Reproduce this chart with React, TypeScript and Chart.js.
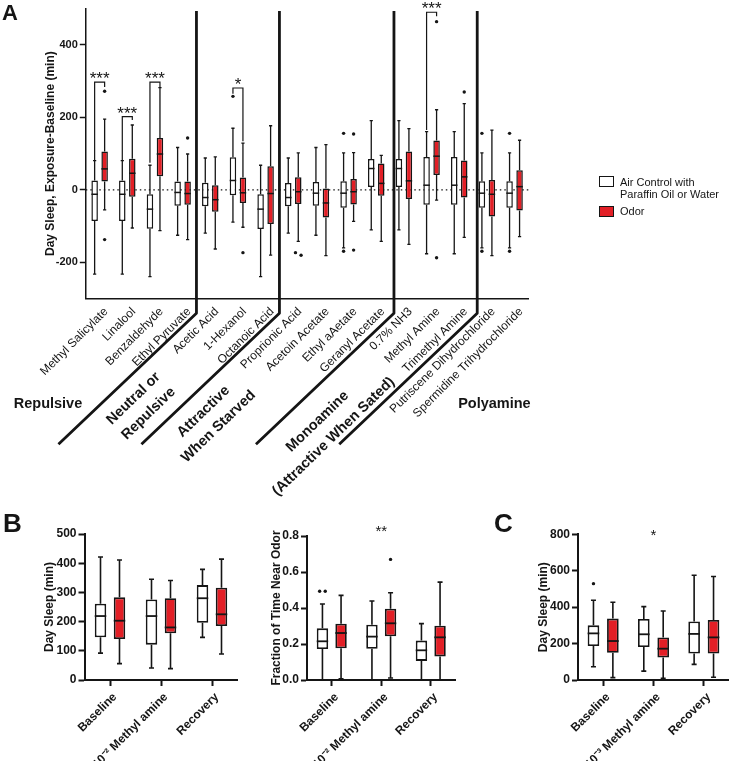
import React, { useEffect, useRef } from 'react';
import { Chart, registerables } from 'chart.js';

Chart.register(...registerables);

const FONT = "'Liberation Sans', Arial, Helvetica, sans-serif";
const INK = '#151515';
const RED = '#E21F26';
const WHITE = '#FFFFFF';

// ---------------- Panel A data ----------------
const A_CATEGORIES = [
  'Methyl Salicylate', 'Linalool', 'Benzaldehyde', 'Ethyl Pyruvate', 'Acetic Acid', '1-Hexanol',
  'Octanoic Acid', 'Proprionic Acid', 'Acetoin Acetate', 'Ethyl aAetate', 'Geranyl Acetate',
  '0.7% NH3', 'Methyl Amine', 'Trimethyl Amine', 'Putriscene Dihydrochloride', 'Spermidine Trihydrochloride',
];
// [min, q1, median, q3, max]
const A_CONTROL = [
  [-232, -86, -12, 26, 81],
  [-232, -86, -12, 26, 81],
  [-239, -107, -53, -12, 68],
  [-125, -44, -7, 23, 117],
  [-119, -45, -21, 20, 88],
  [-89, -15, 26, 90, 170],
  [-239, -108, -53, -12, 68],
  [-119, -45, -21, 19, 88],
  [-125, -44, -9, 22, 117],
  [-160, -49, -9, 24, 102],
  [-110, 8, 59, 85, 191],
  [-110, 8, 59, 85, 191],
  [-176, -41, 13, 91, 161],
  [-176, -41, 13, 91, 161],
  [-160, -49, -9, 24, 102],
  [-160, -49, -9, 24, 102],
];
const A_ODOR = [
  [-55, 23, 58, 106, 195],
  [-105, -19, 46, 86, 179],
  [-112, 38, 99, 143, 282],
  [-137, -41, -10, 23, 99],
  [-163, -60, -27, 13, 91],
  [-103, -36, -8, 34, 129],
  [-180, -94, -10, 65, 177],
  [-142, -39, -5, 35, 102],
  [-181, -76, -36, 4, 125],
  [-87, -40, -5, 30, 103],
  [-142, -16, 18, 73, 95],
  [-150, -25, 25, 106, 169],
  [-28, 41, 93, 136, 221],
  [-131, -21, 36, 81, 238],
  [-181, -73, -12, 27, 165],
  [-129, -57, 9, 54, 137],
];
const A_CONTROL_OUTLIERS = [[], [], [], [], [], [258], [], [], [], [156, -169], [], [], [], [], [156, -169], [156, -169]];
const A_ODOR_OUTLIERS = [[272, -137], [], [], [143], [], [-173], [], [-173, -180], [], [154, -166], [], [], [464, -187], [270], [], []];
const A_Y_TICKS = [-200, 0, 200, 400];
// significance brackets: category, text, bracket level, left leg end, right leg end
const A_SIGNIFICANCE = [
  { cat: 0, text: '***', y: 297, left: 81, right: 284 },
  { cat: 1, text: '***', y: 202, left: 81, right: 193 },
  { cat: 2, text: '***', y: 297, left: 75, right: 284 },
  { cat: 5, text: '*', y: 281, left: 265, right: 134 },
  { cat: 12, text: '***', y: 490, left: 165, right: 479 },
];
const A_GROUP_BOUNDARIES = [3.5, 6.5, 10.64, 13.65];

// ---------------- Panel B data ----------------
const B_CATEGORIES = ['Baseline', '10\u207B\u00B2 Methyl amine', 'Recovery'];
const B_SLEEP_CONTROL = [[92, 146, 219, 261, 421], [41, 121, 219, 276, 345], [146, 196, 280, 325, 379]];
const B_SLEEP_ODOR = [[56, 140, 203, 283, 411], [39, 160, 180, 280, 341], [89, 185, 225, 316, 414]];
const B_SLEEP_Y_TICKS = [0, 100, 200, 300, 400, 500];
const B_FRAC_CONTROL = [[0, 0.172, 0.215, 0.287, 0.422], [0, 0.174, 0.241, 0.307, 0.439], [0, 0.106, 0.165, 0.219, 0.313]];
const B_FRAC_ODOR = [[0.006, 0.176, 0.261, 0.313, 0.47], [0.011, 0.243, 0.315, 0.396, 0.485], [0, 0.131, 0.237, 0.302, 0.544]];
const B_FRAC_CONTROL_OUTLIERS = [[0.493, 0.493], [], []];
const B_FRAC_ODOR_OUTLIERS = [[], [0.67], []];
const B_FRAC_Y_TICKS = [0, 0.2, 0.4, 0.6, 0.8];
const B_FRAC_STARS = [{ cat: 1, text: '**', y: 0.85 }];

// ---------------- Panel C data ----------------
const C_CATEGORIES = ['Baseline', '10\u207B\u00B3 Methyl amine', 'Recovery'];
const C_CONTROL = [[73, 187, 256, 300, 438], [49, 181, 251, 335, 403], [86, 145, 253, 321, 575]];
const C_ODOR = [[13, 150, 214, 337, 427], [9, 123, 172, 233, 379], [15, 145, 234, 330, 568]];
const C_CONTROL_OUTLIERS = [[529], [], []];
const C_ODOR_OUTLIERS = [[], [], []];
const C_Y_TICKS = [0, 200, 400, 600, 800];
const C_STARS = [{ cat: 1, text: '*', y: 815 }];

type Spec = {
  labels: string[];
  control: number[][];
  odor: number[][];
  controlOut: number[][];
  odorOut: number[][];
  yMin: number;
  yMax: number;
  yTicks: number[];
  yDecimals: number;
  yTitle: string;
  pad: { left: number; top: number; right: number; bottom: number };
  yWidth: number;
  xHeight: number;
  catPct: number;
  barPct: number;
  boxBorder: number;
  axisW: number;
  whiskerW: number;
  capHalf: number;
  outlierR: number;
  yTickSize: number;
  yTitleSize: number;
  xTickSize: number;
  xTickWeight: string;
  xPadding: number;
  xLabelOffset: number;
  xDrawTicks: boolean;
  zeroLine?: boolean;
  brackets?: { cat: number; text: string; y: number; left: number; right: number }[];
  stars?: { cat: number; text: string; y: number }[];
  starSize: number;
  separators?: number[];
};

function drawStarText(ctx: CanvasRenderingContext2D, text: string, x: number, cy: number, size: number) {
  ctx.save();
  ctx.fillStyle = INK;
  ctx.font = `${size}px ${FONT}`;
  ctx.textAlign = 'center';
  ctx.textBaseline = 'alphabetic';
  ctx.fillText(text, x, cy + 0.58 * size);
  ctx.restore();
}

function boxPlugin(s: Spec) {
  return {
    id: 'boxdraw',
    beforeDatasetsDraw(chart: any) {
      if (!s.zeroLine) return;
      const { ctx, chartArea, scales } = chart;
      const yy = scales.y.getPixelForValue(0);
      ctx.save();
      ctx.setLineDash([1.5, 3]);
      ctx.strokeStyle = INK;
      ctx.lineWidth = 1.2;
      ctx.beginPath();
      ctx.moveTo(chartArea.left, yy);
      ctx.lineTo(chartArea.right, yy);
      ctx.stroke();
      ctx.restore();
    },
    afterDatasetsDraw(chart: any) {
      const { ctx, scales } = chart;
      const y = scales.y;
      const groups = [
        { stats: s.control, out: s.controlOut },
        { stats: s.odor, out: s.odorOut },
      ];
      groups.forEach((g, di) => {
        const meta = chart.getDatasetMeta(di);
        meta.data.forEach((el: any, i: number) => {
          const [mn, q1, md, q3, mx] = g.stats[i];
          const x = el.x;
          const w = el.width;
          ctx.save();
          ctx.strokeStyle = INK;
          ctx.lineCap = 'butt';
          ctx.lineWidth = s.whiskerW;
          ctx.beginPath();
          ctx.moveTo(x, y.getPixelForValue(q3));
          ctx.lineTo(x, y.getPixelForValue(mx));
          ctx.moveTo(x - s.capHalf, y.getPixelForValue(mx));
          ctx.lineTo(x + s.capHalf, y.getPixelForValue(mx));
          ctx.moveTo(x, y.getPixelForValue(q1));
          ctx.lineTo(x, y.getPixelForValue(mn));
          ctx.moveTo(x - s.capHalf, y.getPixelForValue(mn));
          ctx.lineTo(x + s.capHalf, y.getPixelForValue(mn));
          ctx.stroke();
          ctx.lineWidth = s.boxBorder;
          ctx.beginPath();
          ctx.moveTo(x - w / 2, y.getPixelForValue(md));
          ctx.lineTo(x + w / 2, y.getPixelForValue(md));
          ctx.stroke();
          // outliers (near-coincident ones spread sideways)
          const pts = (g.out[i] || []).map((v) => y.getPixelForValue(v));
          ctx.fillStyle = INK;
          pts.forEach((py, k) => {
            let dx = 0;
            const clash = pts.some((q, j) => j !== k && Math.abs(q - py) < 3);
            if (clash) dx = pts.findIndex((q) => Math.abs(q - py) < 3) === k ? -2.8 : 2.8;
            ctx.beginPath();
            ctx.arc(x + dx, py, s.outlierR, 0, Math.PI * 2);
            ctx.fill();
          });
          ctx.restore();
        });
      });
    },
    afterDraw(chart: any) {
      const { ctx, chartArea, scales } = chart;
      const y = scales.y;
      const xs = scales.x;
      if (s.separators) {
        ctx.save();
        ctx.strokeStyle = INK;
        ctx.lineWidth = 2.8;
        ctx.lineJoin = 'round';
        for (const b of s.separators) {
          const x = xs.getPixelForValue(b);
          ctx.beginPath();
          ctx.moveTo(x, chartArea.top + 2.5);
          ctx.lineTo(x, chartArea.bottom + 14.6);
          ctx.lineTo(x - 138, chartArea.bottom + 145.5);
          ctx.stroke();
        }
        ctx.restore();
      }
      if (s.brackets) {
        const m0 = chart.getDatasetMeta(0).data;
        const m1 = chart.getDatasetMeta(1).data;
        for (const b of s.brackets) {
          const xl = m0[b.cat].x;
          const xr = m1[b.cat].x;
          const yt = y.getPixelForValue(b.y);
          ctx.save();
          ctx.strokeStyle = INK;
          ctx.lineWidth = 1.2;
          ctx.beginPath();
          ctx.moveTo(xl, y.getPixelForValue(b.left));
          ctx.lineTo(xl, yt);
          ctx.lineTo(xr, yt);
          ctx.lineTo(xr, y.getPixelForValue(b.right));
          ctx.stroke();
          ctx.restore();
          drawStarText(ctx, b.text, (xl + xr) / 2, yt - 8, s.starSize);
        }
      }
      if (s.stars) {
        for (const st of s.stars) {
          drawStarText(ctx, st.text, xs.getPixelForValue(st.cat), y.getPixelForValue(st.y), s.starSize);
        }
      }
    },
  };
}

function buildConfig(s: Spec): any {
  const font = (size: number, weight: string) => ({ family: FONT, size, weight });
  return {
    type: 'bar',
    data: {
      labels: s.labels,
      datasets: [
        {
          label: 'Air Control with Paraffin Oil or Water',
          data: s.control.map((b) => [b[1], b[3]]),
          backgroundColor: WHITE,
          borderColor: INK,
          borderWidth: s.boxBorder,
          borderSkipped: false,
          categoryPercentage: s.catPct,
          barPercentage: s.barPct,
        },
        {
          label: 'Odor',
          data: s.odor.map((b) => [b[1], b[3]]),
          backgroundColor: RED,
          borderColor: INK,
          borderWidth: s.boxBorder,
          borderSkipped: false,
          categoryPercentage: s.catPct,
          barPercentage: s.barPct,
        },
      ],
    },
    options: {
      animation: false,
      responsive: false,
      maintainAspectRatio: false,
      events: [],
      layout: { padding: s.pad, autoPadding: false },
      plugins: { legend: { display: false }, tooltip: { enabled: false }, title: { display: false } },
      scales: {
        x: {
          type: 'category',
          offset: true,
          grid: {
            display: true,
            drawOnChartArea: false,
            drawTicks: s.xDrawTicks,
            tickLength: 6,
            tickWidth: s.axisW,
            tickColor: INK,
            offset: false,
          },
          border: { display: true, color: INK, width: s.axisW },
          ticks: {
            autoSkip: false,
            minRotation: 45,
            maxRotation: 45,
            padding: s.xPadding,
            labelOffset: s.xLabelOffset,
            color: INK,
            font: font(s.xTickSize, s.xTickWeight),
          },
          afterFit: (sc: any) => {
            sc.height = s.xHeight;
          },
        },
        y: {
          type: 'linear',
          min: s.yMin,
          max: s.yMax,
          afterBuildTicks: (sc: any) => {
            sc.ticks = s.yTicks.map((v) => ({ value: v }));
          },
          grid: {
            display: true,
            drawOnChartArea: false,
            drawTicks: true,
            tickLength: 6,
            tickWidth: s.axisW,
            tickColor: INK,
          },
          border: { display: true, color: INK, width: s.axisW },
          ticks: {
            padding: 2,
            color: INK,
            font: font(s.yTickSize, 'bold'),
            callback: (v: number) => Number(v).toFixed(s.yDecimals),
          },
          title: {
            display: true,
            text: s.yTitle,
            color: INK,
            font: font(s.yTitleSize, 'bold'),
            padding: 0,
          },
          afterFit: (sc: any) => {
            sc.width = s.yWidth;
          },
        },
      },
    },
    plugins: [boxPlugin(s)],
  };
}

const SMALL_STYLE = {
  boxBorder: 1.8,
  axisW: 2,
  whiskerW: 1.6,
  capHalf: 2.5,
  outlierR: 1.7,
  yTickSize: 12,
  yTitleSize: 12,
  xTickSize: 12,
  xTickWeight: 'bold',
  xPadding: 4,
  xLabelOffset: 5,
  xDrawTicks: true,
  starSize: 15,
};

const SPEC_A: Spec = {
  labels: A_CATEGORIES,
  control: A_CONTROL,
  odor: A_ODOR,
  controlOut: A_CONTROL_OUTLIERS,
  odorOut: A_ODOR_OUTLIERS,
  yMin: -300,
  yMax: 500,
  yTicks: A_Y_TICKS,
  yDecimals: 0,
  yTitle: 'Day Sleep, Exposure-Baseline (min)',
  pad: { left: 43, top: 6, right: 200.6, bottom: 0 },
  yWidth: 42.8,
  xHeight: 161.3,
  catPct: 0.723,
  barPct: 0.65,
  boxBorder: 1.5,
  axisW: 1.5,
  whiskerW: 1.3,
  capHalf: 1.6,
  outlierR: 1.7,
  yTickSize: 11,
  yTitleSize: 12,
  xTickSize: 12,
  xTickWeight: 'normal',
  xPadding: 6,
  xLabelOffset: 6.5,
  xDrawTicks: false,
  zeroLine: true,
  brackets: A_SIGNIFICANCE,
  starSize: 17,
  separators: A_GROUP_BOUNDARIES,
};

const SPEC_B1: Spec = {
  ...SMALL_STYLE,
  labels: B_CATEGORIES,
  control: B_SLEEP_CONTROL,
  odor: B_SLEEP_ODOR,
  controlOut: [[], [], []],
  odorOut: [[], [], []],
  yMin: 0,
  yMax: 500,
  yTicks: B_SLEEP_Y_TICKS,
  yDecimals: 0,
  yTitle: 'Day Sleep (min)',
  pad: { left: 42.8, top: 34, right: 7.5, bottom: 0 },
  yWidth: 41.7,
  xHeight: 81,
  catPct: 0.745,
  barPct: 0.605,
};

const SPEC_B2: Spec = {
  ...SMALL_STYLE,
  labels: B_CATEGORIES,
  control: B_FRAC_CONTROL,
  odor: B_FRAC_ODOR,
  controlOut: B_FRAC_CONTROL_OUTLIERS,
  odorOut: B_FRAC_ODOR_OUTLIERS,
  yMin: 0,
  yMax: 0.8,
  yTicks: B_FRAC_Y_TICKS,
  yDecimals: 1,
  yTitle: 'Fraction of Time Near Odor',
  pad: { left: 24.5, top: 36, right: 9.5, bottom: 0 },
  yWidth: 37.5,
  xHeight: 81,
  catPct: 0.752,
  barPct: 0.613,
  stars: B_FRAC_STARS,
};

const SPEC_C: Spec = {
  ...SMALL_STYLE,
  labels: C_CATEGORIES,
  control: C_CONTROL,
  odor: C_ODOR,
  controlOut: C_CONTROL_OUTLIERS,
  odorOut: C_ODOR_OUTLIERS,
  yMin: 0,
  yMax: 800,
  yTicks: C_Y_TICKS,
  yDecimals: 0,
  yTitle: 'Day Sleep (min)',
  pad: { left: 56.8, top: 34.3, right: 0, bottom: 0 },
  yWidth: 41.2,
  xHeight: 81,
  catPct: 0.771,
  barPct: 0.6,
  stars: C_STARS,
};

function BoxChart(props: { spec: Spec; left: number; top: number; width: number; height: number }) {
  const ref = useRef<HTMLCanvasElement>(null);
  useEffect(() => {
    const chart = new Chart(ref.current as HTMLCanvasElement, buildConfig(props.spec));
    return () => chart.destroy();
  }, []);
  return (
    <canvas
      ref={ref}
      width={props.width}
      height={props.height}
      style={{ position: 'absolute', left: props.left, top: props.top, width: props.width, height: props.height }}
    />
  );
}

const GROUP_LABEL_LAYOUT = [
  { text: 'Repulsive', x: 48, y: 403, rot: 0 },
  { text: 'Neutral or', x: 133.3, y: 398.3, rot: -44 },
  { text: 'Repulsive', x: 148.3, y: 413.3, rot: -44 },
  { text: 'Attractive', x: 203.3, y: 410.8, rot: -44 },
  { text: 'When Starved', x: 217.5, y: 425.8, rot: -44 },
  { text: 'Monoamine', x: 316.7, y: 420.8, rot: -44 },
  { text: '(Attractive When Sated)', x: 332.5, y: 435.8, rot: -44 },
  { text: 'Polyamine', x: 494.4, y: 403, rot: 0 },
];

export default function App() {
  const txt = { position: 'absolute' as const, fontFamily: FONT, color: INK, whiteSpace: 'nowrap' as const };
  return (
    <div style={{ position: 'fixed', left: 0, top: 0, width: 729, height: 761, background: '#fff', overflow: 'hidden' }}>
      <BoxChart spec={SPEC_A} left={0} top={0} width={729} height={460} />
      <BoxChart spec={SPEC_B1} left={0} top={500} width={245} height={261} />
      <BoxChart spec={SPEC_B2} left={245} top={500} width={220} height={261} />
      <BoxChart spec={SPEC_C} left={480} top={500} width={249} height={261} />

      <div style={{ ...txt, left: 2, top: 2, fontSize: 22, fontWeight: 'bold', lineHeight: 1 }}>A</div>
      <div style={{ ...txt, left: 3, top: 509.6, fontSize: 26, fontWeight: 'bold', lineHeight: 1 }}>B</div>
      <div style={{ ...txt, left: 494, top: 509.6, fontSize: 26, fontWeight: 'bold', lineHeight: 1 }}>C</div>

      {GROUP_LABEL_LAYOUT.map((g, i) => (
        <div
          key={i}
          style={{
            ...txt,
            left: g.x,
            top: g.y,
            fontSize: 14.5,
            fontWeight: 'bold',
            lineHeight: 1,
            transform: `translate(-50%, -50%) rotate(${g.rot}deg)`,
          }}
        >
          {g.text}
        </div>
      ))}

      <div style={{ position: 'absolute', left: 599, top: 176, width: 15, height: 11, border: `1px solid ${INK}`, background: WHITE, boxSizing: 'border-box' }} />
      <div style={{ ...txt, left: 620, top: 176, fontSize: 11, lineHeight: '12px' }}>
        Air Control with
        <br />
        Paraffin Oil or Water
      </div>
      <div style={{ position: 'absolute', left: 599, top: 206, width: 15, height: 11, border: `1px solid ${INK}`, background: RED, boxSizing: 'border-box' }} />
      <div style={{ ...txt, left: 620, top: 205, fontSize: 11, lineHeight: '12px' }}>Odor</div>
    </div>
  );
}
